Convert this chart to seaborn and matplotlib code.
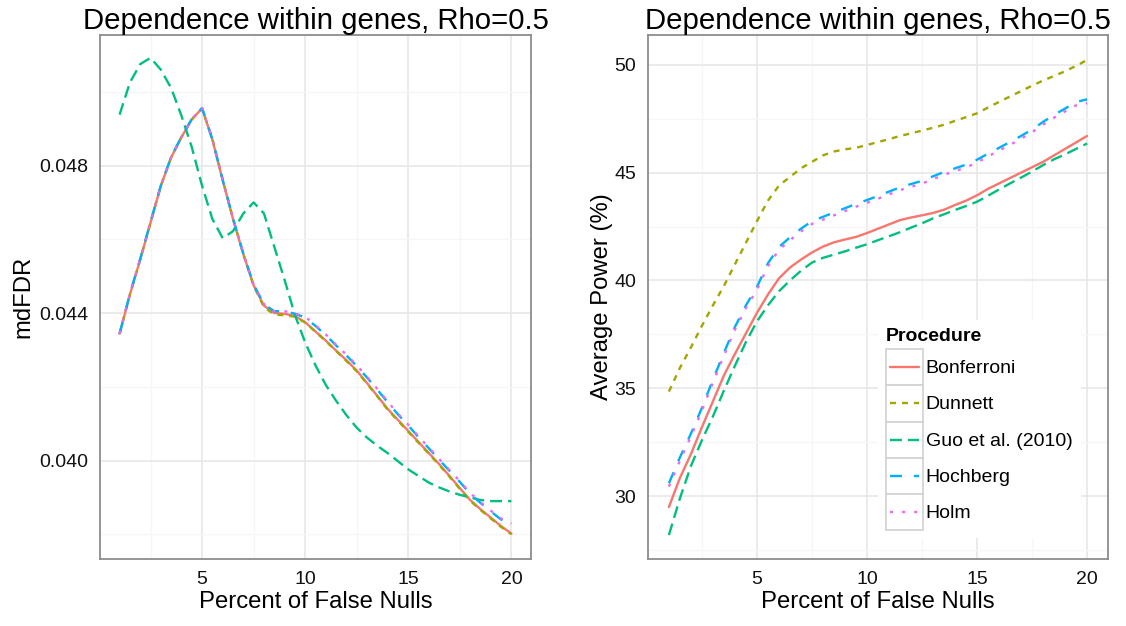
import matplotlib
matplotlib.use("Agg")
import matplotlib.pyplot as plt
import numpy as np
import pandas as pd
import seaborn as sns
from matplotlib.legend_handler import HandlerBase
from matplotlib.lines import Line2D
from matplotlib.patches import Rectangle

# ---------------------------------------------------------------- data
PCT = [1, 1.5, 2, 2.5, 3, 3.5, 4, 4.5, 5, 5.5, 6, 6.5, 7, 7.5, 8, 8.5, 9, 9.5,
       10, 10.5, 11, 11.5, 12, 12.5, 13, 13.5, 14, 14.5, 15, 15.5, 16, 16.5,
       17, 17.5, 18, 18.5, 19, 19.5, 20]

PROCEDURES = ["Bonferroni", "Dunnett", "Guo et al. (2010)", "Hochberg", "Holm"]

# mdFDR by procedure
FDR_BONFERRONI = [0.04344, 0.04450, 0.04545, 0.04645, 0.04745, 0.04822, 0.04877, 0.04925,
                  0.04955, 0.04870, 0.04760, 0.04655, 0.04560, 0.04475, 0.04420, 0.04400,
                  0.04398, 0.04392, 0.04375, 0.04350, 0.04325, 0.04298, 0.04272, 0.04244,
                  0.04210, 0.04175, 0.04140, 0.04110, 0.04080, 0.04050, 0.04020, 0.03990,
                  0.03958, 0.03925, 0.03893, 0.03868, 0.03845, 0.03822, 0.03802]
FDR_DUNNETT = [0.04344, 0.04450, 0.04545, 0.04645, 0.04745, 0.04822, 0.04877, 0.04925,
               0.04954, 0.04872, 0.04762, 0.04656, 0.04560, 0.04474, 0.04416, 0.04396,
               0.04394, 0.04390, 0.04374, 0.04349, 0.04324, 0.04297, 0.04270, 0.04242,
               0.04208, 0.04174, 0.04138, 0.04108, 0.04078, 0.04048, 0.04018, 0.03988,
               0.03956, 0.03923, 0.03891, 0.03866, 0.03843, 0.03820, 0.03800]
FDR_GUO = [0.04938, 0.05025, 0.05075, 0.05092, 0.05060, 0.05010, 0.04935, 0.04850,
           0.04745, 0.04655, 0.04603, 0.04622, 0.04670, 0.04700, 0.04670, 0.04580,
           0.04490, 0.04395, 0.04320, 0.04258, 0.04205, 0.04162, 0.04123, 0.04089,
           0.04062, 0.04040, 0.04020, 0.03998, 0.03976, 0.03958, 0.03940, 0.03927,
           0.03916, 0.03907, 0.03900, 0.03893, 0.03890, 0.03890, 0.03890]
FDR_HOCHBERG = [0.04344, 0.04452, 0.04547, 0.04647, 0.04746, 0.04823, 0.04878, 0.04926,
                0.04956, 0.04871, 0.04761, 0.04656, 0.04561, 0.04477, 0.04424, 0.04405,
                0.04405, 0.04398, 0.04388, 0.04365, 0.04340, 0.04312, 0.04285, 0.04256,
                0.04225, 0.04192, 0.04158, 0.04125, 0.04095, 0.04063, 0.04033, 0.04002,
                0.03972, 0.03942, 0.03910, 0.03885, 0.03862, 0.03840, 0.03826]
FDR_HOLM = [0.04344, 0.04452, 0.04547, 0.04647, 0.04746, 0.04823, 0.04878, 0.04926,
            0.04956, 0.04871, 0.04761, 0.04656, 0.04561, 0.04477, 0.04424, 0.04405,
            0.04405, 0.04399, 0.04390, 0.04367, 0.04342, 0.04314, 0.04287, 0.04258,
            0.04227, 0.04194, 0.04160, 0.04127, 0.04097, 0.04065, 0.04035, 0.04004,
            0.03974, 0.03944, 0.03912, 0.03887, 0.03864, 0.03843, 0.03829]

# Average power (%) by procedure
POW_BONFERRONI = [29.5, 30.85, 31.95, 33.2, 34.4, 35.6, 36.6, 37.55, 38.5, 39.35, 40.1,
                  40.6, 40.97, 41.3, 41.57, 41.77, 41.9, 42.02, 42.2, 42.4, 42.6, 42.8,
                  42.92, 43.02, 43.13, 43.28, 43.5, 43.7, 43.95, 44.25, 44.5, 44.75, 45.0,
                  45.25, 45.5, 45.8, 46.1, 46.4, 46.7]
POW_DUNNETT = [34.85, 35.95, 36.9, 37.9, 38.85, 39.75, 40.75, 41.75, 42.75, 43.7, 44.4,
               44.8, 45.2, 45.5, 45.8, 45.98, 46.08, 46.15, 46.28, 46.42, 46.55, 46.7,
               46.82, 46.95, 47.08, 47.22, 47.4, 47.57, 47.75, 48.02, 48.28, 48.53, 48.78,
               49.03, 49.27, 49.48, 49.7, 49.95, 50.22]
POW_GUO = [28.2, 29.9, 31.4, 32.6, 33.7, 34.9, 36.05, 37.15, 38.1, 38.85, 39.5, 40.0,
           40.45, 40.83, 41.05, 41.2, 41.35, 41.52, 41.68, 41.87, 42.05, 42.24, 42.45,
           42.65, 42.88, 43.07, 43.27, 43.45, 43.65, 43.93, 44.22, 44.5, 44.77, 45.05,
           45.35, 45.62, 45.85, 46.1, 46.35]
POW_HOCHBERG = [30.6, 31.8, 32.9, 34.1, 35.4, 36.65, 37.85, 38.85, 39.7, 40.8, 41.55,
                42.0, 42.4, 42.75, 42.95, 43.15, 43.35, 43.55, 43.73, 43.92, 44.12, 44.32,
                44.47, 44.62, 44.83, 45.03, 45.2, 45.37, 45.6, 45.88, 46.15, 46.42, 46.7,
                47.0, 47.35, 47.68, 47.97, 48.27, 48.4]
POW_HOLM = [30.45, 31.65, 32.77, 33.97, 35.27, 36.52, 37.72, 38.72, 39.57, 40.67, 41.42,
            41.87, 42.27, 42.62, 42.82, 43.02, 43.22, 43.42, 43.6, 43.79, 43.99, 44.19,
            44.34, 44.49, 44.7, 44.9, 45.07, 45.24, 45.47, 45.75, 46.02, 46.29, 46.57,
            46.87, 47.22, 47.55, 47.84, 48.12, 48.22]

FDR_TICKS = [0.040, 0.044, 0.048]
FDR_TICK_LABELS = ["0.040", "0.044", "0.048"]
POW_TICKS = [30, 35, 40, 45, 50]
X_TICKS = [5, 10, 15, 20]

# ---------------------------------------------------------------- styling
PALETTE = {"Bonferroni": "#F8766D", "Dunnett": "#A3A500",
           "Guo et al. (2010)": "#00BF7D", "Hochberg": "#00B0F6", "Holm": "#E76BF3"}
DASHES = {"Bonferroni": "", "Dunnett": (4.3, 4.3), "Guo et al. (2010)": (8.6, 4.3),
          "Hochberg": (8.6, 8.6), "Holm": (2.2, 6.5)}
LW = 1.7

sns.set_style("white")
plt.rcParams["font.family"] = ["Liberation Sans", "DejaVu Sans"]
plt.rcParams["lines.scale_dashes"] = False
plt.rcParams["text.color"] = "black"
plt.rcParams["axes.labelcolor"] = "black"


def long_frame(series):
    parts = [pd.DataFrame({"pct": PCT, "value": vals, "Procedure": name})
             for name, vals in series.items()]
    return pd.concat(parts, ignore_index=True)


fdr = long_frame(dict(zip(PROCEDURES, [FDR_BONFERRONI, FDR_DUNNETT, FDR_GUO,
                                       FDR_HOCHBERG, FDR_HOLM])))
power = long_frame(dict(zip(PROCEDURES, [POW_BONFERRONI, POW_DUNNETT, POW_GUO,
                                         POW_HOCHBERG, POW_HOLM])))

W, H = 1126, 626
fig = plt.figure(figsize=(W / 100, H / 100), dpi=100)
ax1 = fig.add_axes([100 / W, 1 - 559 / H, (531 - 100) / W, (559 - 35) / H])
ax2 = fig.add_axes([648 / W, 1 - 559 / H, (1108 - 648) / W, (559 - 35) / H])

for ax, data in ((ax1, fdr), (ax2, power)):
    sns.lineplot(data=data, x="pct", y="value", hue="Procedure", style="Procedure",
                 hue_order=PROCEDURES, style_order=PROCEDURES, palette=PALETTE,
                 dashes=DASHES, linewidth=LW, estimator=None, sort=True,
                 legend=False, ax=ax)


def style_axes(ax, yticks, yminor, ylim, ylabel):
    ax.set_xlim(0.05, 20.95)
    ax.set_ylim(*ylim)
    ax.set_xticks(X_TICKS)
    ax.set_xticks([2.5, 7.5, 12.5, 17.5], minor=True)
    ax.set_yticks(yticks)
    ax.set_yticks(yminor, minor=True)
    ax.set_axisbelow(True)
    ax.grid(which="major", color="#E6E6E6", linewidth=1.1)
    ax.grid(which="minor", color="#F6F6F6", linewidth=0.9)
    ax.tick_params(which="major", length=5.5, width=1.1, color="#333333",
                   labelsize=14, labelcolor="#111111", pad=3)
    ax.tick_params(which="minor", length=0)
    for sp in ax.spines.values():
        sp.set_visible(True)
        sp.set_color("#8C8C8C")
        sp.set_linewidth(1.3)
    ax.set_title("Dependence within genes, Rho=0.5", fontsize=21.2, pad=4.3)
    ax.set_xlabel("Percent of False Nulls", fontsize=17.2, labelpad=2)
    ax.set_ylabel(ylabel, fontsize=17.2, labelpad=3)


style_axes(ax1, FDR_TICKS, [0.038, 0.042, 0.046, 0.050], (0.03733, 0.05154), "mdFDR")
ax1.set_yticklabels(FDR_TICK_LABELS)
style_axes(ax2, POW_TICKS, [27.5, 32.5, 37.5, 42.5, 47.5], (27.09, 51.38),
           "Average Power (%)")
ax2.yaxis.labelpad = 1


class BoxedKey(HandlerBase):
    """Legend key drawn as a framed cell with a line sample inside."""

    def create_artists(self, legend, orig_handle, xdescent, ydescent,
                       width, height, fontsize, trans):
        box = Rectangle((-xdescent, -ydescent), width, height, facecolor="white",
                        edgecolor="#D4D4D4", linewidth=1.3, transform=trans)
        y = -ydescent + height / 2
        sample = Line2D([-xdescent + 0.1 * width, -xdescent + 0.9 * width], [y, y])
        sample.update_from(orig_handle)
        sample.set_transform(trans)
        return [box, sample]


handles = [Line2D([], [], color=PALETTE[p], linewidth=LW,
                  linestyle="-" if DASHES[p] == "" else (0, DASHES[p]))
           for p in PROCEDURES]
leg = ax2.legend(handles, PROCEDURES, title="Procedure",
                 handler_map={Line2D: BoxedKey()},
                 loc="upper left", bbox_to_anchor=(878 / W, 1 - 320 / H),
                 bbox_transform=fig.transFigure, borderaxespad=0,
                 fontsize=14, title_fontsize=14, alignment="left",
                 handlelength=1.9, handleheight=2.487, labelspacing=0,
                 handletextpad=0.15, borderpad=0.41, frameon=True,
                 facecolor="white", edgecolor="none", framealpha=1, fancybox=False)
leg.get_title().set_fontweight("bold")
# a little breathing room between the legend title and the keys
leg._legend_box.sep = 3.0

fig.savefig("out.png", dpi=100)
